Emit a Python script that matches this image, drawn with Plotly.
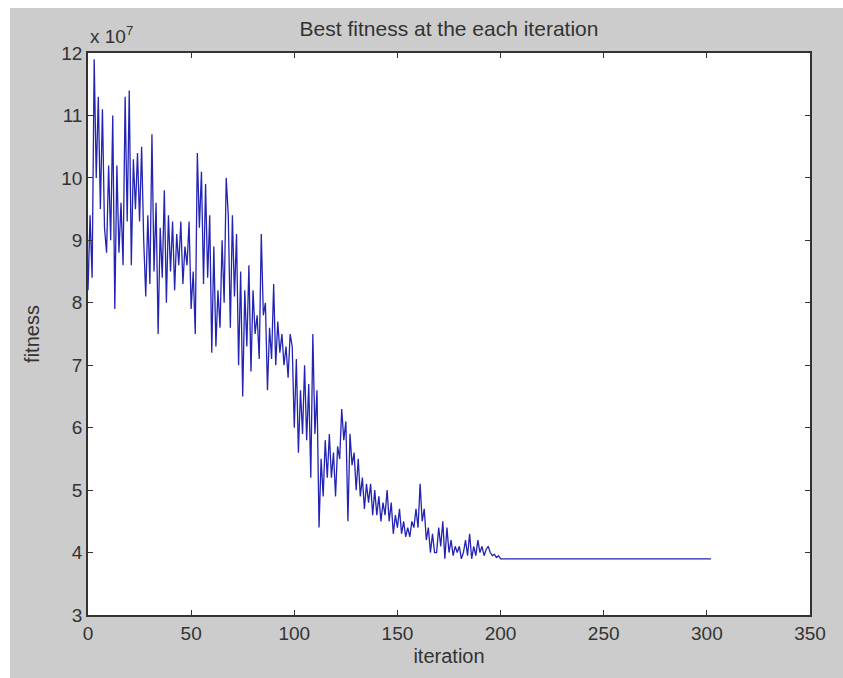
import plotly.graph_objects as go

# Best fitness per iteration (units of 1e7)
fitness_noisy = [
    8.2, 9.4, 8.4, 11.9, 10.0, 11.3, 9.5, 11.1, 9.2, 8.8,
    10.2, 9.0, 11.0, 7.9, 10.2, 8.8, 9.6, 8.6, 11.3, 9.3,
    11.4, 8.6, 10.3, 9.5, 10.4, 9.3, 10.5, 9.0, 8.1, 9.4,
    8.3, 10.7, 8.5, 9.6, 7.5, 9.2, 8.4, 9.8, 8.0, 9.4,
    8.5, 9.3, 8.2, 9.1, 8.6, 9.3, 8.3, 8.9, 8.6, 9.3,
    7.9, 8.5, 7.5, 10.4, 9.2, 10.1, 8.3, 9.9, 8.4, 9.4,
    7.2, 8.9, 7.3, 8.2, 7.6, 9.0, 8.0, 10.0, 9.4, 7.6,
    9.4, 8.1, 9.1, 7.0, 8.5, 6.5, 8.2, 7.3, 8.6, 6.9,
    8.2, 7.5, 7.8, 7.1, 9.1, 7.8, 8.0, 6.6, 7.6, 7.1,
    8.3, 7.0, 7.7, 7.2, 7.5, 7.0, 7.3, 6.8, 7.5, 7.3,
    6.0, 7.1, 5.6, 6.6, 5.9, 7.0, 5.8, 6.7, 5.2, 7.5,
    5.9, 6.6, 4.4, 5.5, 4.9, 5.8, 5.2, 5.9, 5.2, 5.6,
    4.9, 5.7, 5.5, 6.3, 5.8, 6.1, 4.5, 5.9, 5.4, 5.6,
    5.0, 5.5, 4.9, 5.2, 4.7, 5.1, 4.8, 5.1, 4.6, 5.0,
    4.6, 4.9, 4.5, 4.8, 4.6, 5.0, 4.5, 4.8, 4.3, 4.6,
    4.4, 4.7, 4.3, 4.5, 4.25, 4.4, 4.25, 4.5, 4.4, 4.7,
    4.4, 5.1, 4.5, 4.7, 4.2, 4.4, 4.0, 4.3, 4.0, 4.0,
    4.4, 4.1, 4.5, 3.9, 4.4, 4.0, 4.2, 3.95, 4.1, 4.0,
    4.1, 3.9, 4.0, 4.2, 3.95, 4.3, 3.9, 4.1, 3.95, 4.2,
    4.0, 4.1, 3.95, 4.05, 4.1, 4.0, 3.95, 3.97, 3.92, 3.95,
]
# converged plateau from iteration 200 to 302
fitness_plateau = [3.9] * 103
fitness = fitness_noisy + fitness_plateau
iterations = list(range(len(fitness)))

x_ticks = [0, 50, 100, 150, 200, 250, 300, 350]
y_ticks = [3, 4, 5, 6, 7, 8, 9, 10, 11, 12]

FONT = "Liberation Sans, Arial, sans-serif"
TXT = "#333333"

fig = go.Figure()
fig.add_trace(go.Scatter(
    x=iterations, y=fitness, mode="lines",
    line=dict(color="#2323b4", width=1.3),
    showlegend=False, hoverinfo="skip",
))

axis_common = dict(
    showline=True, linecolor="#333333", linewidth=1.5, mirror="ticks",
    ticks="inside", ticklen=5, tickwidth=1.2, tickcolor="#333333",
    showgrid=False, zeroline=False,
    tickfont=dict(family=FONT, size=19, color=TXT),
)

fig.update_layout(
    width=843, height=678,
    margin=dict(l=88, r=33, t=53, b=63),
    paper_bgcolor="#cccccc", plot_bgcolor="white",
    title=dict(text="Best fitness at the each iteration", x=(88 + 361) / 843,
               xanchor="center", y=1 - 29 / 678, yanchor="middle",
               font=dict(family=FONT, size=21, color=TXT)),
    xaxis=dict(range=[0, 350], tickvals=x_ticks,
               title=dict(text="iteration", font=dict(family=FONT, size=20, color=TXT), standoff=6),
               **axis_common),
    yaxis=dict(range=[3, 12], tickvals=y_ticks,
               title=dict(text="fitness", font=dict(family=FONT, size=20, color=TXT), standoff=16),
               **axis_common),
    shapes=[
        # white outer border (top and left)
        dict(type="rect", xref="paper", yref="paper", x0=-88 / 722, x1=755 / 722,
             y0=1 + 45 / 562, y1=1 + 53 / 562, fillcolor="white", line=dict(width=0), layer="below"),
        dict(type="rect", xref="paper", yref="paper", x0=-88 / 722, x1=-78 / 722,
             y0=-63 / 562, y1=1 + 53 / 562, fillcolor="white", line=dict(width=0), layer="below"),
    ],
    annotations=[
        dict(text="x 10<sup>7</sup>", xref="paper", yref="paper", x=0, y=1 + 4 / 562,
             xanchor="left", yanchor="bottom", showarrow=False,
             font=dict(family=FONT, size=19, color=TXT)),
    ],
)

fig.write_html("out.html")
